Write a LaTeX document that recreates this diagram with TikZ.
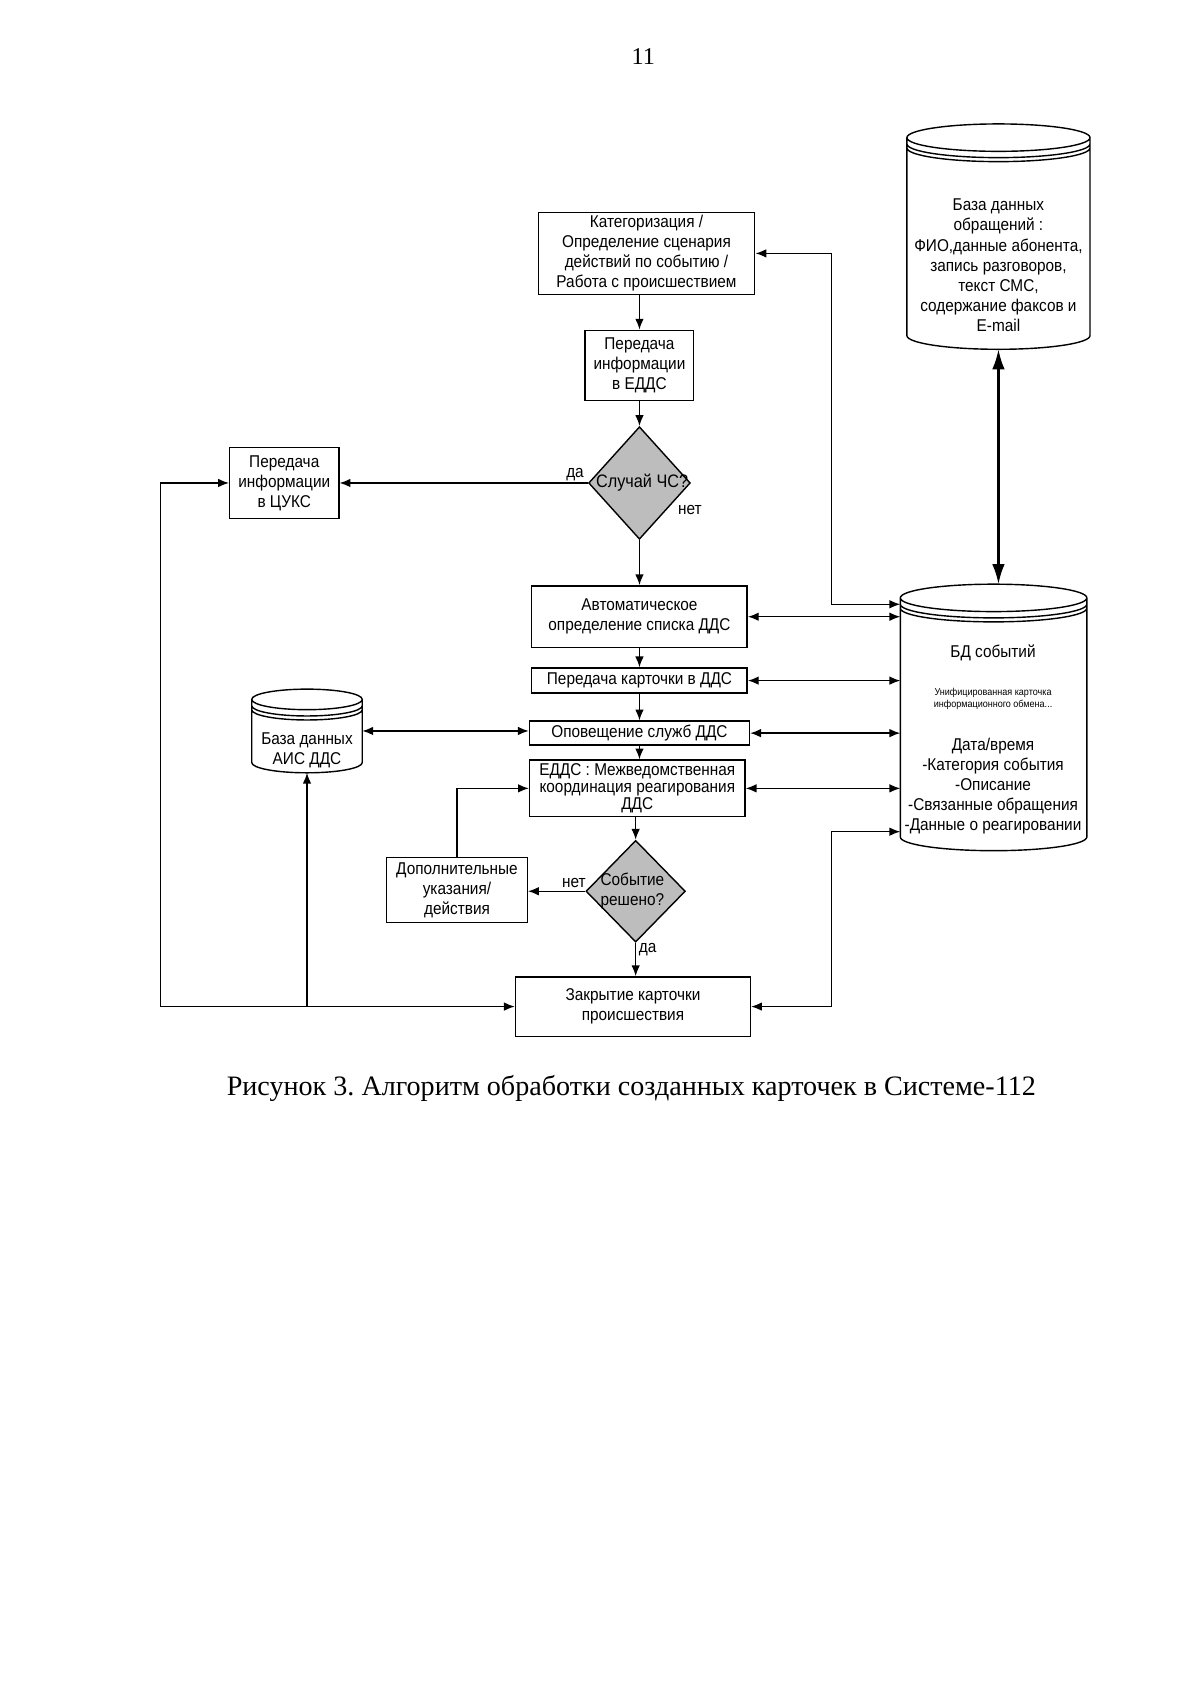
\documentclass[tikz,border=0pt]{standalone}
\usepackage{fontspec}
\setmainfont{Liberation Serif}
\newfontfamily\chartfont[FakeStretch=0.9]{Liberation Sans}
\usepackage{tikz}
\usetikzlibrary{arrows.meta,shapes.geometric,calc}
\definecolor{decfill}{HTML}{BDBDBD}
\newcommand\dbcyl[2][2.4mm]{%
  \draw let \p1=(#2.north west), \p2=(#2.south east), \n1={(\x2-\x1)/2} in
    ({\x1},{\y1-#1}) arc[start angle=180,end angle=-180,x radius=\n1,y radius=#1]
    ({\x1},{\y1-#1}) -- ({\x1},{\y2+#1}) arc[start angle=180,end angle=360,x radius=\n1,y radius=#1] -- ({\x2},{\y1-#1})
    ({\x1},{\y1-#1-1.1mm}) arc[start angle=180,end angle=360,x radius=\n1,y radius=#1]
    ({\x1},{\y1-#1-1.8mm}) arc[start angle=180,end angle=360,x radius=\n1,y radius=#1];}

\begin{document}
\begin{tikzpicture}[x=0.18953mm,y=0.18953mm,line width=0.7pt,
      >={Latex[length=1.9mm,width=1.5mm]},
      blk/.style={draw,rectangle,inner sep=1pt,align=center,
                  font=\chartfont\fontsize{8.5}{10}\selectfont},
      dec/.style={draw,diamond,fill=decfill,inner sep=0pt},
      dbase/.style={rectangle,inner sep=0pt},
      lbl/.style={font=\chartfont\fontsize{8.5}{10}\selectfont,align=center,inner sep=0pt},
      tiny/.style={font=\chartfont\fontsize{5}{6}\selectfont,align=center,inner sep=0pt}]
    \useasboundingbox (0,0) rectangle (1108,-1568);
    \node[font=\fontsize{12}{14}\selectfont] (pgno) at (594,-52) {11};

    \node[blk,minimum width=37.9mm,minimum height=14.4mm] (kat) at (597,-234)
      {Категоризация /\\Определение сценария\\действий по событию /\\Работа с происшествием};
    \node[blk,minimum width=19mm,minimum height=12.3mm] (edds) at (590.5,-337.5)
      {Передача\\информации\\в ЕДДС};
    \node[dec,minimum width=17.8mm,minimum height=19.7mm] (chs) at (590.5,-446) {};
    \node[lbl,font=\chartfont\fontsize{9}{10}\selectfont] (chst) at (593,-446) {Случай ЧС?};
    \node[blk,minimum width=19.1mm,minimum height=12.5mm] (cuks) at (262.5,-446)
      {Передача\\информации\\в ЦУКС};
    \node[blk,minimum width=37.7mm,minimum height=10.8mm] (auto) at (590.5,-569.5)
      {Автоматическое\\определение списка ДДС};
    \node[blk,minimum width=37.7mm,minimum height=4.4mm] (card) at (590.5,-628.5)
      {Передача карточки в ДДС};
    \node[blk,minimum width=38.5mm,minimum height=4.2mm] (notify) at (590.5,-677)
      {Оповещение служб ДДС};
    \node[blk,minimum width=37.7mm,minimum height=9.9mm,inner sep=0pt,
          font=\chartfont\fontsize{8.5}{8.5}\selectfont] (coord) at (588.5,-728)
      {ЕДДС : Межведомственная\\координация реагирования\\ДДС};
    \node[dec,minimum width=17.4mm,minimum height=17.8mm] (res) at (587,-823) {};
    \node[lbl] (rest) at (584,-823) {Событие\\решено?};
    \node[blk,minimum width=24.6mm,minimum height=11.4mm] (extra) at (422,-822)
      {Дополнительные\\указания/\\действия};
    \node[blk,minimum width=41.1mm,minimum height=10.4mm] (close) at (584.5,-929.5)
      {Закрытие карточки\\происшествия};

    \node[dbase,minimum width=31.8mm,minimum height=39.2mm] (obr) at (922,-218.5) {};
    \node[dbase,minimum width=32.4mm,minimum height=46.4mm] (bd) at (917.5,-662.5) {};
    \node[dbase,minimum width=19.1mm,minimum height=14.4mm] (ais) at (283.5,-675) {};
    \dbcyl{obr}
    \dbcyl{bd}
    \dbcyl[1.8mm]{ais}
    \node[lbl] (obrt) at (922,-245) {База данных\\обращений :\\ФИО,данные абонента,\\запись разговоров,\\текст СМС,\\содержание факсов и\\E-mail};
    \node[lbl] (bdt) at (917,-603) {БД событий};
    \node[tiny] (bdu) at (917,-645) {Унифицированная карточка\\информационного обмена...};
    \node[lbl] (bdl) at (917,-726) {Дата/время\\-Категория события\\-Описание\\-Связанные обращения\\-Данные о реагировании};
    \node[lbl] (aist) at (283.5,-693) {База данных\\АИС ДДС};

    \node[lbl] (yes1) at (531,-438) {да};
    \node[lbl] (no1) at (637,-471) {нет};
    \node[lbl] (no2) at (530,-815) {нет};
    \node[lbl] (yes2) at (598,-877) {да};

    \coordinate (rtop) at (768,-558);
    \coordinate (rbot) at (768,-768);
    \coordinate (lbot) at (148,-929.5);

    \draw[->] (kat.south -| edds.north) -- (edds.north);
    \draw[->] (edds.south) -- (chs.north);
    \draw[->] (chs.south) -- (auto.north);
    \draw[->] (auto.south) -- (card.north);
    \draw[->] (card.south) -- (notify.north);
    \draw[->] (notify.south) -- (coord.north -| notify.south);
    \draw[->] (coord.south -| res.north) -- (res.north);
    \draw[->] (res.south) -- (res.south |- close.north);
    \draw[->] (chs.west) -- (chs.west -| cuks.east);
    \draw[->] (res.west) -- (res.west -| extra.east);
    \draw[->] (extra.north) |- (coord.west);

    \draw[<->] (kat.east) -| (rtop) -- (rtop -| bd.west);
    \draw[<->] (close.east) -| (rbot) -- (rbot -| bd.west);
    \draw[<->] (auto.east) -- (auto.east -| bd.west);
    \draw[<->] (card.east) -- (card.east -| bd.west);
    \draw[<->] (notify.east) -- (notify.east -| bd.west);
    \draw[<->] (coord.east) -- (coord.east -| bd.west);
    \draw[<->] (ais.east) -- (ais.east -| notify.west);
    \draw[<->,line width=1.2pt,>={Latex[length=3.5mm,width=2.2mm]}] (obr.south) -- (obr.south |- bd.north);

    \draw[<->] (cuks.west) -| (lbot) -- (close.west);
    \draw[->] (ais.south |- lbot) -- (ais.south);

    \node[font=\fontsize{14}{16}\selectfont] (cap) at (583,-1005)
      {Рисунок 3.\ Алгоритм обработки созданных карточек в Системе-112};
\end{tikzpicture}
\end{document}
